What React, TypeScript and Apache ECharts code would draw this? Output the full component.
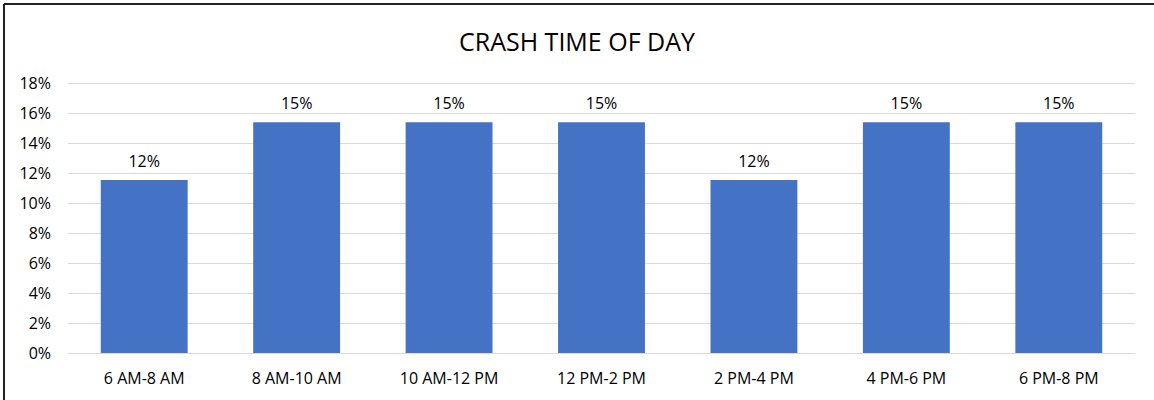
import React, { useEffect, useRef } from "react";
import * as echarts from "echarts";

const categories = ["6 AM-8 AM", "8 AM-10 AM", "10 AM-12 PM", "12 PM-2 PM", "2 PM-4 PM", "4 PM-6 PM", "6 PM-8 PM"];
const shares = [11.54, 15.38, 15.38, 15.38, 11.54, 15.38, 15.38];
const titleText = "CRASH TIME OF DAY";

export default function App() {
  const ref = useRef<HTMLDivElement>(null);
  useEffect(() => {
    if (!ref.current) return;
    const chart = echarts.init(ref.current, null, { renderer: "svg" });
    const font = "'Open Sans', 'Liberation Sans', sans-serif";
    chart.setOption({
      animation: false,
      backgroundColor: "#ffffff",
      title: {
        text: titleText,
        left: "center",
        top: 23,
        textStyle: { fontFamily: font, fontSize: 25, fontWeight: "normal", color: "#000000" },
      },
      grid: { left: 68, right: 19, top: 83, bottom: 47 },
      xAxis: {
        type: "category",
        data: categories,
        axisLine: { show: true, lineStyle: { color: "#d9d9d9", width: 1 } },
        axisTick: { show: false },
        axisLabel: { fontFamily: font, fontSize: 16, color: "#000000", margin: 17 },
      },
      yAxis: {
        type: "value",
        min: 0,
        max: 18,
        interval: 2,
        axisLine: { show: false },
        axisTick: { show: false },
        splitLine: { lineStyle: { color: "#d9d9d9", width: 1 } },
        axisLabel: { fontFamily: font, fontSize: 16, color: "#000000", margin: 17, formatter: (v: number) => `${v}%` },
      },
      series: [
        {
          type: "bar",
          data: shares,
          barCategoryGap: "43%",
          itemStyle: { color: "#4472C4" },
          label: {
            show: true,
            position: "top",
            distance: 11,
            fontFamily: font,
            fontSize: 16,
            color: "#000000",
            formatter: (p: any) => `${Math.round(p.value)}%`,
          },
        },
      ],
      graphic: [
        { type: "line", shape: { x1: 4, y1: 4, x2: 1154, y2: 4 }, style: { stroke: "#222222", lineWidth: 2 } },
        { type: "line", shape: { x1: 4, y1: 4, x2: 4, y2: 400 }, style: { stroke: "#222222", lineWidth: 2 } },
      ],
    });
    return () => chart.dispose();
  }, []);
  return <div ref={ref} style={{ position: "absolute", left: 0, top: 0, width: 1154, height: 400 }} />;
}
